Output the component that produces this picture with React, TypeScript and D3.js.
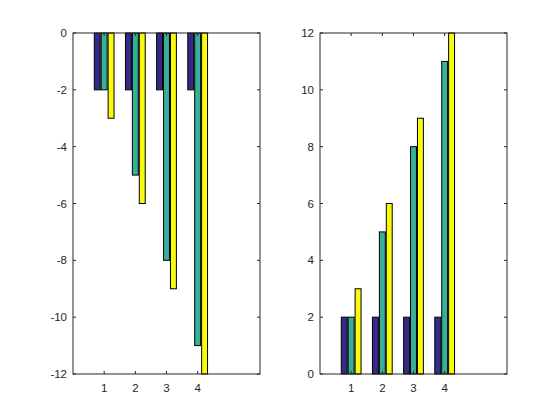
import * as d3 from "d3";

const CATEGORIES = [1, 2, 3, 4];
const LEFT_SERIES = [
  [-2, -2, -2, -2],
  [-2, -5, -8, -11],
  [-3, -6, -9, -12],
];
const RIGHT_SERIES = [
  [2, 2, 2, 2],
  [2, 5, 8, 11],
  [3, 6, 9, 12],
];
const LEFT_YTICKS = [0, -2, -4, -6, -8, -10, -12];
const RIGHT_YTICKS = [0, 2, 4, 6, 8, 10, 12];
const COLORS = ["#352a87", "#36b09a", "#f9fb0e"];

const W = 560;
const H = 420;
const TOP = 33;
const BOTTOM = 374;
const TICK = 3;
const FONT = "Arial, 'Liberation Sans', sans-serif";

type PanelProps = {
  left: number;
  right: number;
  series: number[][];
  yDomain: [number, number];
  yTicks: number[];
};

const Panel = ({ left, right, series, yDomain, yTicks }: PanelProps) => {
  const x = d3.scaleLinear().domain([0, 6]).range([left, right]);
  const y = d3.scaleLinear().domain(yDomain).range([BOTTOM, TOP]);
  const slot = 0.222;
  const barW = 0.19;
  const bars = series.flatMap((vals, si) =>
    vals.map((v, ci) => {
      const cx = CATEGORIES[ci] + (si - 1) * slot;
      const x0 = x(cx - barW / 2);
      const x1 = x(cx + barW / 2);
      const y0 = y(0);
      const y1 = y(v);
      return (
        <rect
          key={`${si}-${ci}`}
          x={x0}
          width={x1 - x0}
          y={Math.min(y0, y1)}
          height={Math.abs(y1 - y0)}
          fill={COLORS[si]}
          stroke="#000"
          strokeWidth={1}
        />
      );
    })
  );
  return (
    <g>
      {bars}
      <rect
        x={left}
        y={TOP}
        width={right - left}
        height={BOTTOM - TOP}
        fill="none"
        stroke="#262626"
        strokeWidth={1}
      />
      {yTicks.map((t) => (
        <g key={`y${t}`}>
          <line x1={left} x2={left + TICK} y1={y(t)} y2={y(t)} stroke="#262626" />
          <line x1={right} x2={right - TICK} y1={y(t)} y2={y(t)} stroke="#262626" />
          <text
            x={left - 6}
            y={y(t)}
            dy="0.35em"
            textAnchor="end"
            fontSize={11.5}
            fontFamily={FONT}
            fill="#262626"
          >
            {t}
          </text>
        </g>
      ))}
      {CATEGORIES.map((c) => (
        <g key={`x${c}`}>
          <line x1={x(c)} x2={x(c)} y1={BOTTOM} y2={BOTTOM - TICK} stroke="#262626" />
          <line x1={x(c)} x2={x(c)} y1={TOP} y2={TOP + TICK} stroke="#262626" />
          <text
            x={x(c)}
            y={BOTTOM + 18}
            textAnchor="middle"
            fontSize={11.5}
            fontFamily={FONT}
            fill="#262626"
          >
            {c}
          </text>
        </g>
      ))}
    </g>
  );
};

export default function App() {
  return (
    <svg width={W} height={H} style={{ display: "block", margin: -8 }}>
      <rect width={W} height={H} fill="#fff" />
      <Panel left={73} right={260} series={LEFT_SERIES} yDomain={[-12, 0]} yTicks={LEFT_YTICKS} />
      <Panel left={320} right={507} series={RIGHT_SERIES} yDomain={[0, 12]} yTicks={RIGHT_YTICKS} />
    </svg>
  );
}
